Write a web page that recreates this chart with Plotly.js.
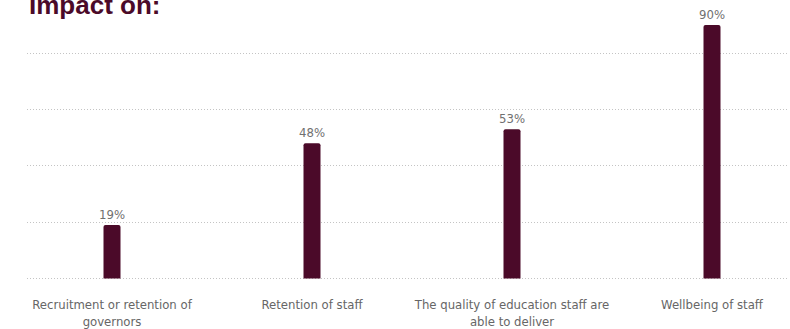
<!DOCTYPE html>
<html><head><meta charset="utf-8">
<script src="https://cdn.plot.ly/plotly-3.0.1.min.js"></script>
<style>html,body{margin:0;padding:0;background:#fff}#chart{width:790px;height:329px}</style>
</head><body><div id="chart"></div>
<script>
const categories = ["Recruitment or retention of<br>governors", "Retention of staff", "The quality of education staff are<br>able to deliver", "Wellbeing of staff"];
const values = [19, 48, 53, 90];
const labels = ["19%", "48%", "53%", "90%"];
const titleText = "Impact on:";

const condensed = 'DejaVu Sans Condensed, Liberation Sans Narrow, sans-serif';
const trace = {
  type: 'bar',
  x: [0, 1, 2, 3],
  y: values,
  text: labels,
  textposition: 'outside',
  constraintext: 'none',
  textfont: {family: condensed, size: 13, color: '#707070'},
  cliponaxis: false,
  width: 0.085,
  marker: {color: '#4b0a29', cornerradius: 2},
  hoverinfo: 'none'
};
const layout = {
  width: 790, height: 329,
  margin: {l: 27, r: 3, t: 25, b: 49},
  paper_bgcolor: '#fff', plot_bgcolor: '#fff',
  showlegend: false,
  xaxis: {
    range: [-0.425, 3.375], tickmode: 'array', tickvals: [0, 1, 2, 3], ticktext: categories,
    showgrid: false, zeroline: false, showline: false, ticks: 'outside', ticklen: 12, tickcolor: 'rgba(0,0,0,0)',
    tickfont: {family: condensed, size: 13, color: '#666'}
  },
  yaxis: {
    range: [-0.5, 90], dtick: 20, tick0: 0, showticklabels: false, zeroline: false, showline: false,
    showgrid: true, gridcolor: '#c4c4c4', gridwidth: 1, griddash: '1px,2px'
  },
  annotations: [{
    text: '<b>' + titleText + '</b>', xref: 'paper', yref: 'paper', x: 0, y: 1,
    xanchor: 'left', yanchor: 'bottom', yshift: 3, xshift: 0, showarrow: false,
    font: {family: 'Liberation Sans, Arial, sans-serif', size: 26, color: '#4b0a29'}
  }]
};
Plotly.newPlot('chart', [trace], layout, {staticPlot: true});
</script>
</body></html>
